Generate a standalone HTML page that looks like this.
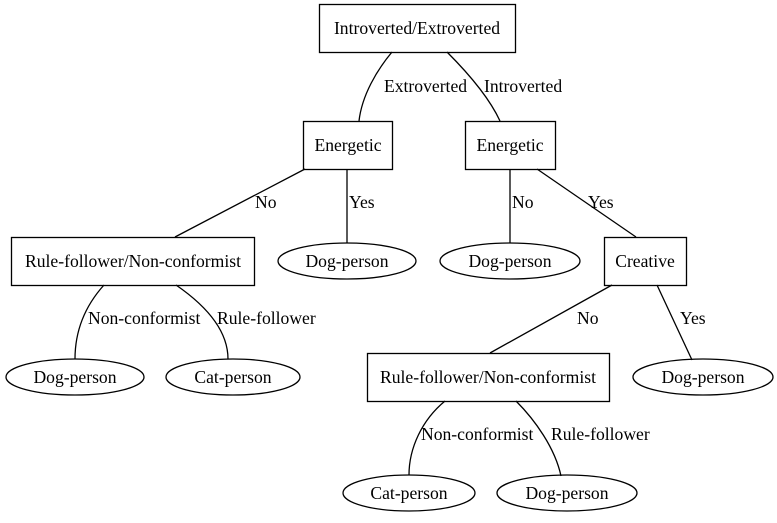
<!DOCTYPE html>
<html><head><meta charset="utf-8"><style>
html,body{margin:0;padding:0;background:#fff;}
svg{display:block;}
text{font-family:"Liberation Serif","Times New Roman",serif;font-size:17.6px;fill:#000;}
</style></head><body>
<svg width="777" height="523" viewBox="0 0 777 523" xmlns="http://www.w3.org/2000/svg">
<g fill="none" stroke="#000" stroke-width="1.3">
<rect x="319.5" y="4.5" width="196" height="48"/>
<rect x="303.5" y="121.5" width="89" height="48"/>
<rect x="465.5" y="121.5" width="90" height="48"/>
<rect x="11.5" y="237.5" width="243" height="48"/>
<rect x="604.5" y="237.5" width="82" height="48"/>
<rect x="367.5" y="353.5" width="242" height="48"/>
<ellipse cx="347" cy="261" rx="69" ry="18"/>
<ellipse cx="510" cy="261" rx="70" ry="18"/>
<ellipse cx="75" cy="377" rx="69" ry="18"/>
<ellipse cx="233" cy="377" rx="67" ry="18"/>
<ellipse cx="703" cy="377" rx="70" ry="18"/>
<ellipse cx="409" cy="493" rx="66" ry="18"/>
<ellipse cx="567" cy="493" rx="70" ry="18"/>
<path d="M392,52 C377,70 362,95 359,121"/>
<path d="M447,52 C465,70 488,95 500,121"/>
<path d="M305,169 L175,237"/>
<path d="M347,169 L347,243"/>
<path d="M510,169 L510,243"/>
<path d="M537,169 L636,237"/>
<path d="M104,285 C86,305 75,330 75,359"/>
<path d="M176,285 C205,305 228,330 228,359"/>
<path d="M612,285 L490,353"/>
<path d="M657,285 L692,360"/>
<path d="M445,401 C422,420 409,448 409,475"/>
<path d="M516,401 C535,420 555,448 561,476"/>
</g>
<g text-anchor="middle">
<text x="417" y="34">Introverted/Extroverted</text>
<text x="348" y="151">Energetic</text>
<text x="510" y="151">Energetic</text>
<text x="133" y="267">Rule-follower/Non-conformist</text>
<text x="645" y="267">Creative</text>
<text x="488" y="383">Rule-follower/Non-conformist</text>
<text x="347" y="267">Dog-person</text>
<text x="510" y="267">Dog-person</text>
<text x="75" y="383">Dog-person</text>
<text x="233" y="383">Cat-person</text>
<text x="703" y="383">Dog-person</text>
<text x="409" y="499">Cat-person</text>
<text x="567" y="499">Dog-person</text>
</g>
<g>
<text x="384" y="92">Extroverted</text>
<text x="484" y="92">Introverted</text>
<text x="255" y="208">No</text>
<text x="349" y="208">Yes</text>
<text x="512" y="208">No</text>
<text x="588" y="208">Yes</text>
<text x="88" y="324">Non-conformist</text>
<text x="217" y="324">Rule-follower</text>
<text x="577" y="324">No</text>
<text x="680" y="324">Yes</text>
<text x="421" y="440">Non-conformist</text>
<text x="551" y="440">Rule-follower</text>
</g>
</svg>
</body></html>
